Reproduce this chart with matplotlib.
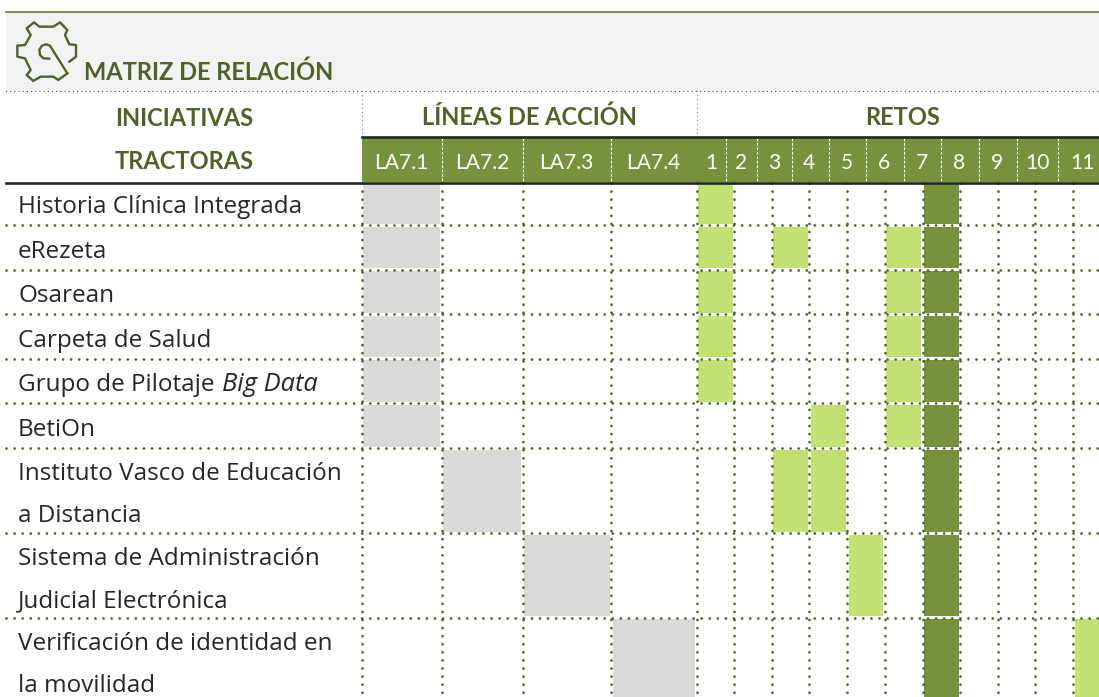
import matplotlib
matplotlib.use("Agg")
import matplotlib.pyplot as plt
from matplotlib.patches import Rectangle

# data
initiatives = [
    ["Historia Clínica Integrada"],
    ["eRezeta"],
    ["Osarean"],
    ["Carpeta de Salud"],
    ["Grupo de Pilotaje "],
    ["BetiOn"],
    ["Instituto Vasco de Educación", "a Distancia"],
    ["Sistema de Administración", "Judicial Electrónica"],
    ["Verificación de identidad en", "la movilidad"],
]
la_labels = ["LA7.1", "LA7.2", "LA7.3", "LA7.4"]
reto_labels = ["1", "2", "3", "4", "5", "6", "7", "8", "9", "10", "11"]
la_links = [1, 1, 1, 1, 1, 1, 2, 3, 4]
reto_links = [
    [1, 7],
    [1, 3, 6, 7],
    [1, 6, 7],
    [1, 6, 7],
    [1, 6, 7],
    [4, 6, 7],
    [3, 4, 7],
    [5, 7],
    [7, 11],
]
main_reto = 7

# layout in pixels
W, H = 1099, 697
left = 6
la_edges = [361.5, 441.5, 522.5, 611, 696.5]
reto_edges = [696.5, 734, 771.5, 809, 847, 884.5, 922.5, 960, 997.5, 1035, 1073, 1110]
row_edges = [182.5, 225, 269.5, 314, 358.5, 403, 448, 533, 617.5, 702]
baselines = [[213], [258], [302], [347], [391], [435.5], [480, 522], [565, 607], [650, 692]]
la_centres = [401, 482, 566.5, 653]
reto_centres = [711, 741, 774, 809, 846.5, 884, 921.7, 959, 997, 1037, 1083]
head_dividers = [441.5, 522.5, 611, 726, 757, 792, 828.5, 866, 904, 941, 979, 1017, 1058]

dark = "#4f6228"
green = "#76923c"
light = "#c1e273"
grey = "#d9d9d9"
ink = "#262626"
body_font = "Open Sans"
head_font = "Lato"
px = 0.72  # font size in points for one pixel at dpi 100
head_size = 23.6 * px
body_size = 24.2 * px

fig = plt.figure(figsize=(W / 100, H / 100), dpi=100)
ax = fig.add_axes([0, 0, 1, 1])
ax.set_xlim(0, W)
ax.set_ylim(H, 0)
ax.axis("off")


def box(x0, x1, y0, y1, color, z=1, inset=0):
    ax.add_patch(Rectangle((x0 + inset, y0 + inset), x1 - x0 - 2 * inset, y1 - y0 - 2 * inset,
                           facecolor=color, edgecolor="none", zorder=z))


def dots(xs, ys, gap=2.9, lw=2.0, color=dark, z=3):
    ax.plot(xs, ys, color=color, lw=lw, ls=(0, (0.01, gap)), dash_capstyle="round", zorder=z)


# title band
box(left, W, 12, 91, "#f2f2f2")
ax.plot([left, W], [12, 12], color="#5f7f35", lw=1.2, zorder=3)
dots([left, W], [91, 91], gap=3, lw=1.0)
ax.text(84, 80, "MATRIZ DE RELACIÓN", fontsize=head_size, fontweight="bold", family=head_font,
        color=dark, va="baseline")

gear = [(178, 140), (198, 125), (198, 90), (178, 88), (165, 60), (172, 45), (150, 22), (130, 35),
        (88, 35), (72, 22), (50, 40), (62, 60), (45, 90), (22, 92), (22, 125), (45, 130), (62, 165),
        (50, 180), (70, 198), (92, 185), (130, 185), (145, 195), (172, 175)]
wrench = [(172, 175), (128, 105), (120, 92), (108, 88), (96, 92), (88, 104), (90, 120), (100, 130), (118, 131)]
for shape in [gear, wrench]:
    ax.plot([10 + p[0] / 3 for p in shape], [15 + p[1] / 3 for p in shape], color=dark, lw=1.7, zorder=3)

# column heads
ax.text(184, 126, "INICIATIVAS", fontsize=head_size, fontweight="bold", family=head_font,
        color=dark, ha="center", va="baseline")
ax.text(184, 169, "TRACTORAS", fontsize=head_size, fontweight="bold", family=head_font,
        color=dark, ha="center", va="baseline")
ax.text(529, 125, "LÍNEAS DE ACCIÓN", fontsize=head_size, fontweight="bold", family=head_font,
        color=dark, ha="center", va="baseline")
ax.text(903, 125, "RETOS", fontsize=head_size, fontweight="bold", family=head_font,
        color=dark, ha="center", va="baseline")

box(la_edges[0], W, 137, 182, green)
for x, label in zip(la_centres, la_labels):
    ax.text(x, 169, label, fontsize=21 * px, family=head_font, color="white", ha="center", va="baseline", zorder=5)
for x, label in zip(reto_centres, reto_labels):
    ax.text(x, 169, label, fontsize=21 * px, family=head_font, color="white", ha="center", va="baseline", zorder=5)
for x in head_dividers:
    ax.plot([x, x], [138, 181], color="white", lw=0.8, ls=(0, (2.5, 1.5)), zorder=4)

ax.plot([la_edges[0], W], [137, 137], color=ink, lw=1.9, zorder=4)
ax.plot([left, W], [182.5, 182.5], color=ink, lw=1.9, zorder=4)
for x in [la_edges[0], la_edges[-1]]:
    dots([x, x], [91, 137], gap=3, lw=1.0, color="#7f9160")

# matrix cells
for i in range(len(initiatives)):
    y0, y1 = row_edges[i], row_edges[i + 1]
    la = la_links[i] - 1
    box(la_edges[la], la_edges[la + 1], y0, y1, grey, inset=1.5)
    for r in reto_links[i]:
        color = green if r == main_reto else light
        box(reto_edges[r - 1], reto_edges[r], y0, y1, color, inset=1.5)

# grid
for y in row_edges[1:-1]:
    dots([left, W], [y, y])
for x in la_edges + reto_edges[1:-1]:
    dots([x, x], [183, H])

# row labels
for lines, ys in zip(initiatives, baselines):
    for line, y in zip(lines, ys):
        t = ax.text(18, y, line, fontsize=body_size, family=body_font, color=ink, va="baseline", zorder=5)
        if line.startswith("Grupo"):
            ax.text(222, y, "Big Data", fontsize=25.5 * px, family=body_font,
                    style="italic", color=ink, va="baseline", zorder=5)

fig.savefig("out.png", dpi=100)
